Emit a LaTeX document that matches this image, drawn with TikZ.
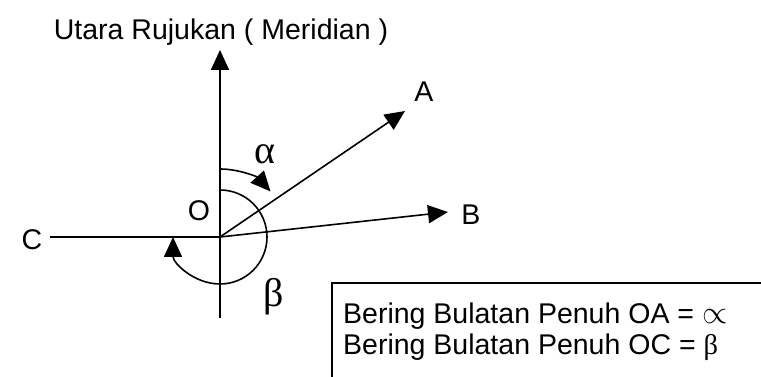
\documentclass[tikz,border=0pt]{standalone}
\usepackage{fontspec}
\setmainfont{Liberation Sans}
\newfontfamily\symfont{Liberation Serif}
\usetikzlibrary{arrows.meta, positioning}

\begin{document}
\begin{tikzpicture}[x=1pt, y=1pt,
    vec/.style={line width=1.6pt, -{Triangle[length=20pt, width=18pt]}},
    plain/.style={line width=1.6pt},
    lbl/.style={font=\fontsize{28.5}{34}\selectfont, inner sep=0pt},
    greek/.style={font=\fontsize{40}{44}\symfont, inner sep=0pt}]
\useasboundingbox (0,0) rectangle (761,377);
% titik dan hujung garisan
\coordinate (O) at (220,140);
\coordinate (N) at (220,327);
\coordinate (S) at (220,59);
\coordinate (C) at (50,140);
\coordinate (A) at (405,266);
\coordinate (B) at (448,165);
\coordinate (boxbot) at (332,0);
\coordinate (boxright) at (761,94);
% label
\node (utara) [lbl] at (221,345) {Utara Rujukan ( Meridian )};
\node (labA) [lbl] at (424,285) {A};
\node (labB) [lbl] at (471,162) {B};
\node (labC) [lbl] at (32,137) {C};
\node (labO) [lbl] at (199,166) {O};
\node (alfa) [greek] at (265,223) {α};
\node (beta) [greek] at (274,80) {β};
% garisan
\draw [vec] (S) -- (N);
\draw [plain] (C) -- (O);
\draw [vec] (O) -- (A);
\draw [vec] (O) -- (B);
% sudut
\draw [vec] ([yshift=68pt]O) arc[start angle=90, end angle=42, radius=68pt];
\draw [vec] ([yshift=47pt]O) arc[start angle=90, end angle=-180, radius=47pt];
% kotak
\draw [plain] (boxbot) |- (boxright);
\node (nota) [lbl, font=\fontsize{28.5}{31}\selectfont, align=left, anchor=west] at (343,45.5)
  {Bering Bulatan Penuh OA = \scalebox{1.3}{$\propto$}\\Bering Bulatan Penuh OC = {\symfont β}};
\end{tikzpicture}
\end{document}
